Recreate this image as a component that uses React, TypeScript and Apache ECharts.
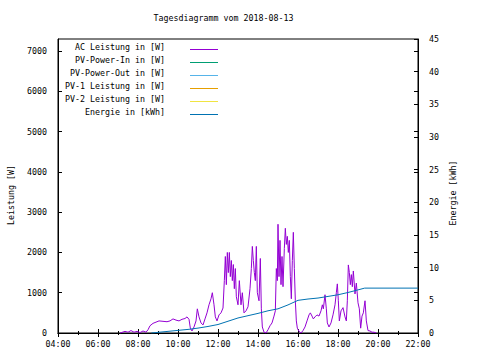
import React, { useEffect, useRef } from "react";
import * as echarts from "echarts";

const titleText = "Tagesdiagramm vom 2018-08-13";
const xTickLabels = ["04:00", "06:00", "08:00", "10:00", "12:00", "14:00", "16:00", "18:00", "20:00", "22:00"];
const legendNames = [
  "AC Leistung in [W]",
  "PV-Power-In in [W]",
  "PV-Power-Out in [W]",
  "PV-1 Leistung in [W]",
  "PV-2 Leistung in [W]",
  "Energie in [kWh]",
];
const legendColors = ["#9400d3", "#009e73", "#56b4e9", "#e69f00", "#f0e442", "#0072b2"];

const acTimes = [
  "07:06", "07:21", "07:30", "07:39", "07:48", "07:57", "08:06", "08:15", "08:24", "08:30",
  "08:36", "08:45", "08:54", "09:03", "09:15", "09:27", "09:36", "09:45", "09:54", "10:03",
  "10:12", "10:21", "10:27", "10:33", "10:37", "10:42", "10:48", "10:54", "10:58", "11:03",
  "11:09", "11:15", "11:21", "11:27", "11:33", "11:39", "11:43", "11:48", "11:52", "11:57",
  "12:03", "12:09", "12:15", "12:19", "12:22", "12:25", "12:28", "12:31", "12:34", "12:37",
  "12:40", "12:43", "12:46", "12:49", "12:52", "12:55", "13:00", "13:04", "13:09", "13:13",
  "13:18", "13:24", "13:30", "13:36", "13:40", "13:43", "13:46", "13:49", "13:52", "13:55",
  "13:58", "14:03", "14:07", "14:10", "14:13", "14:18", "14:24", "14:30", "14:36", "14:42",
  "14:48", "14:52", "14:55", "14:58", "15:00", "15:03", "15:06", "15:09", "15:12", "15:15",
  "15:19", "15:22", "15:25", "15:28", "15:31", "15:34", "15:37", "15:40", "15:43", "15:46",
  "15:49", "15:52", "15:55", "15:58", "16:03", "16:09", "16:15", "16:21", "16:27", "16:33",
  "16:37", "16:42", "16:46", "16:51", "16:57", "17:03", "17:09", "17:13", "17:16", "17:21",
  "17:25", "17:28", "17:33", "17:39", "17:45", "17:51", "17:55", "17:58", "18:01", "18:04",
  "18:09", "18:15", "18:21", "18:25", "18:28", "18:31", "18:34", "18:37", "18:40", "18:43",
  "18:46", "18:51", "18:55", "19:00", "19:04", "19:08", "19:12", "19:16", "19:21", "19:25",
  "19:30", "19:36", "19:42", "19:48", "19:55",
];
const acWatts = [
  0, 40, 20, 60, 20, 40, 10, 50, 20, 80,
  180, 240, 270, 300, 290, 280, 300, 350, 320, 300,
  340, 360, 400, 340, 120, 50, 150, 300, 600, 400,
  250, 200, 350, 500, 700, 850, 1000, 700, 400, 300,
  450, 500, 620, 1300, 1900, 1200, 2000, 1500, 2000, 1400,
  1800, 1300, 1700, 1100, 1600, 900, 700, 1300, 700, 1000,
  500, 550, 650, 1100, 1600, 2150, 1800, 1500, 1300, 2150,
  1000, 800, 1850, 600, 150, 20, 0, 80, 180, 250,
  420, 550, 1600, 1300, 2700, 1400, 2300, 1200, 1900, 1150,
  2100, 2600, 2200, 2400, 2000, 2300, 1400, 850, 1800, 2500,
  1600, 800, 300, 120, 40, 0, 60, 150, 300, 450,
  500, 420, 350, 400, 450, 420, 550, 700, 600, 950,
  600, 250, 150, 250, 450, 700, 1000, 1220, 800, 300,
  550, 630, 400, 300, 800, 1690, 1500, 1200, 1450, 1150,
  1540, 970, 1240, 750, 600, 120, 420, 500, 800, 300,
  60, 50, 20, 20, 0,
];

const energyTimes = [
  "08:40", "09:00", "09:30", "10:00", "10:30", "11:00", "11:30", "12:00", "12:30", "13:00",
  "13:30", "14:00", "14:30", "15:00", "15:30", "16:00", "16:30", "17:00", "17:30", "18:00",
  "18:30", "19:00", "19:20", "20:00", "21:00", "22:00",
];
const energyKwh = [
  0, 0.1, 0.25, 0.4, 0.55, 0.75, 1.0, 1.3, 1.8, 2.3,
  2.65, 3.0, 3.4, 3.7, 4.3, 5.0, 5.2, 5.35, 5.6, 5.85,
  6.2, 6.6, 6.87, 6.87, 6.87, 6.87,
];

const toHours = (t: string) => {
  const [h, m] = t.split(":").map(Number);
  return h + m / 60;
};

const FONT = "DejaVu Sans Mono";
const FS = 8.3;

export default function App() {
  const ref = useRef<HTMLDivElement>(null);
  useEffect(() => {
    if (!ref.current) return;
    const chart = echarts.init(ref.current, null, { renderer: "svg" });
    const fmtX = (v: number) => {
      const idx = xTickLabels.findIndex((s) => Math.abs(toHours(s) - v) < 1e-6);
      return idx >= 0 ? xTickLabels[idx] : "";
    };
    const fmtY = (v: number) => String(v);
    const tickStyle = { color: "#000", width: 1 };
    const graphics: any[] = [
      {
        type: "text",
        x: 223.5,
        y: 18,
        style: { text: titleText, fill: "#000", font: `${FS}px "${FONT}"`, textAlign: "center", textVerticalAlign: "middle" },
      },
      {
        type: "text",
        x: 10.5,
        y: 195,
        rotation: Math.PI / 2,
        style: { text: "Leistung [W]", fill: "#000", font: `${FS}px "${FONT}"`, textAlign: "center", textVerticalAlign: "middle" },
      },
      {
        type: "text",
        x: 452.5,
        y: 193,
        rotation: Math.PI / 2,
        style: { text: "Energie [kWh]", fill: "#000", font: `${FS}px "${FONT}"`, textAlign: "center", textVerticalAlign: "middle" },
      },
    ];
    legendNames.forEach((name, i) => {
      graphics.push({
        type: "text",
        x: 165,
        y: 47 + 13 * i,
        style: { text: name, fill: "#000", font: `${FS}px "${FONT}"`, textAlign: "right", textVerticalAlign: "middle" },
      });
      graphics.push({
        type: "line",
        shape: { x1: 190, y1: 49.5 + 13 * i, x2: 218, y2: 49.5 + 13 * i },
        style: { stroke: legendColors[i], lineWidth: 1 },
      });
    });

    const xBase = {
      type: "value",
      min: 4,
      max: 22,
      interval: 2,
      splitLine: { show: false },
      axisLine: { show: true, lineStyle: { color: "#000", width: 1 } },
      axisTick: { show: true, inside: true, length: 4, lineStyle: tickStyle },
      minorTick: { show: true, splitNumber: 2, length: 2, lineStyle: tickStyle },
    };

    chart.setOption({
      animation: false,
      backgroundColor: "#fff",
      textStyle: { fontFamily: FONT },
      grid: { left: 58, top: 39, width: 360, height: 294, show: true, borderColor: "#000", borderWidth: 1, backgroundColor: "transparent" },
      graphic: graphics,
      xAxis: [
        {
          ...xBase,
          position: "bottom",
          axisLabel: { show: true, color: "#000", fontFamily: FONT, fontSize: FS, margin: 7, formatter: fmtX },
        },
        {
          ...xBase,
          position: "top",
          axisLabel: { show: false },
        },
      ],
      yAxis: [
        {
          type: "value",
          min: 0,
          max: 7300,
          interval: 1000,
          position: "left",
          splitLine: { show: false },
          axisLine: { show: true, lineStyle: { color: "#000" } },
          axisTick: { show: true, inside: true, length: 4, lineStyle: tickStyle },
          axisLabel: { color: "#000", fontFamily: FONT, fontSize: FS, margin: 11, showMaxLabel: false, formatter: fmtY },
        },
        {
          type: "value",
          min: 0,
          max: 45,
          interval: 5,
          position: "right",
          splitLine: { show: false },
          axisLine: { show: true, lineStyle: { color: "#000" } },
          axisTick: { show: true, inside: true, length: 4, lineStyle: tickStyle },
          axisLabel: { color: "#000", fontFamily: FONT, fontSize: FS, margin: 11, formatter: fmtY },
        },
        {
          type: "value",
          min: 0,
          max: 7300,
          interval: 1000,
          position: "right",
          offset: 0,
          splitLine: { show: false },
          axisLine: { show: false },
          axisTick: { show: true, inside: true, length: 4, lineStyle: tickStyle },
          axisLabel: { show: false },
        },
      ],
      series: [
        {
          name: legendNames[0],
          type: "line",
          xAxisIndex: 0,
          yAxisIndex: 0,
          showSymbol: false,
          symbol: "none",
          data: acTimes.map((t, i) => [toHours(t), acWatts[i]]),
          lineStyle: { color: legendColors[0], width: 1 },
          z: 3,
        },
        {
          name: legendNames[5],
          type: "line",
          xAxisIndex: 0,
          yAxisIndex: 1,
          showSymbol: false,
          symbol: "none",
          data: energyTimes.map((t, i) => [toHours(t), energyKwh[i]]),
          lineStyle: { color: legendColors[5], width: 1 },
          z: 4,
        },
      ],
    });
    return () => chart.dispose();
  }, []);
  return <div ref={ref} style={{ width: 480, height: 360, position: "absolute", left: 0, top: 0 }} />;
}
